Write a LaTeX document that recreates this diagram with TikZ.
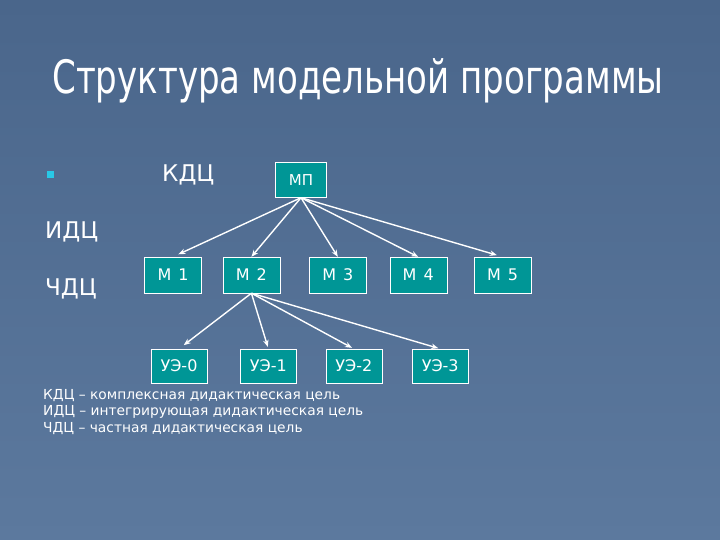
\documentclass[tikz,border=0pt]{standalone}
\usepackage{fontspec}
\setmainfont{DejaVu Sans}
\newfontfamily\titlefont[FakeStretch=0.74]{DejaVu Sans}
\newfontfamily\modfont[LetterSpace=12]{DejaVu Sans}
\usetikzlibrary{arrows.meta, positioning}
\definecolor{slidetop}{RGB}{74,102,139}
\definecolor{slidebot}{RGB}{92,121,158}
\definecolor{boxteal}{RGB}{0,150,150}
\definecolor{bulletcyan}{RGB}{40,200,230}

\begin{document}
\begin{tikzpicture}[
      x=1pt, y=-1pt,
      box/.style={rectangle, draw=white, fill=boxteal, minimum width=57pt, minimum height=36pt, inner sep=0pt, text=white, font=\fontsize{16}{19}\selectfont},
      modbox/.style={box, font=\modfont\fontsize{16}{19}\selectfont},
      arrow/.style={-{Stealth[length=7pt, width=5.5pt]}, draw=white, line width=1.4pt},
      abbr/.style={text=white, anchor=base west, inner sep=0pt, font=\fontsize{23}{27}\selectfont}
    ]

    % background
    \shade[top color=slidetop, bottom color=slidebot] (0,0) rectangle (720,540);

    % Title
    \node[text=white, anchor=base, inner sep=0pt, font=\titlefont\fontsize{46}{54}\selectfont] (title) at (358,94) {Структура модельной программы};

    % Levels
    \node[fill=bulletcyan, minimum size=7pt, inner sep=0pt] (bullet) at (50,175) {};
    \node[abbr] (kdc) at (162,182) {КДЦ};
    \node[abbr] (idc) at (45,238) {ИДЦ};
    \node[abbr] (chdc) at (45,295) {ЧДЦ};

    % Program
    \node[box, minimum width=51pt, minimum height=35pt, font=\fontsize{15}{18}\selectfont] (mp) at (301,180) {МП};

    % Modules
    \node[modbox] (m1) at (173,275) {М 1};
    \node[modbox, right=21pt of m1] (m2) {М 2};
    \node[modbox, right=29pt of m2] (m3) {М 3};
    \node[modbox, right=23pt of m3] (m4) {М 4};
    \node[modbox, right=27pt of m4] (m5) {М 5};

    % Learning elements
    \node[box, minimum width=56pt, minimum height=34pt] (ue0) at (179,366) {УЭ-0};
    \node[box, minimum width=56pt, minimum height=34pt, right=33pt of ue0] (ue1) {УЭ-1};
    \node[box, minimum width=56pt, minimum height=34pt, right=29pt of ue1] (ue2) {УЭ-2};
    \node[box, minimum width=56pt, minimum height=34pt, right=30pt of ue2] (ue3) {УЭ-3};

    % Arrows from MP
    \draw[arrow, shorten >=6pt] (mp.south) -- (m1.north);
    \draw[arrow] (mp.south) -- (m2.north);
    \draw[arrow] (mp.south) -- (m3.north);
    \draw[arrow] (mp.south) -- (m4.north);
    \draw[arrow, shorten >=6pt] (mp.south) -- (m5.north);

    % Arrows from M 2
    \draw[arrow, shorten >=6pt] (m2.south) -- (ue0.north);
    \draw[arrow, shorten >=2pt] (m2.south) -- (ue1.north);
    \draw[arrow, shorten >=2pt] (m2.south) -- (ue2.north);
    \draw[arrow, shorten >=2pt] (m2.south) -- (ue3.north);

    % Legend (base = last line)
    \node[text=white, anchor=base west, inner sep=0pt, align=left, font=\fontsize{13.8}{16.5}\selectfont] (legend) at (43,432)
      {КДЦ – комплексная дидактическая цель\\ИДЦ – интегрирующая дидактическая цель\\ЧДЦ – частная дидактическая цель};

\end{tikzpicture}
\end{document}
